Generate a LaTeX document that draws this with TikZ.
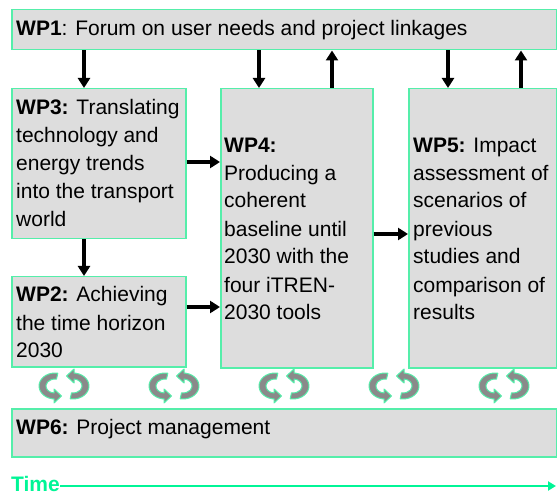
\documentclass[tikz,border=0pt]{standalone}
\usepackage{fontspec}
\setmainfont{Liberation Sans}
\usetikzlibrary{arrows.meta}
\definecolor{boxfill}{RGB}{221,221,221}
\definecolor{boxline}{RGB}{85,238,170}
\definecolor{timegreen}{RGB}{0,245,150}
\definecolor{cycfill}{RGB}{138,138,138}
\tikzset{
  wpbox/.style={draw=boxline,fill=boxfill,line width=1.5pt,inner sep=0pt,anchor=north west},
  wptext/.style={inner sep=0pt,anchor=base west,align=left,font=\fontsize{21}{28}\selectfont},
  flow/.style={line width=3.2pt,-{Triangle[width=12pt,length=10pt]}},
  timeline/.style={draw=timegreen,line width=2.5pt,-{Triangle[width=9pt,length=8pt]}},
  cycpiece/.pic={
    \path[fill=cycfill,draw=boxline,line width=1pt,line join=round]
      (-5.2,-12.8) arc[start angle=280,end angle=100,x radius=16,y radius=13]
      -- (-9,12.8) -- (-9,17) -- (-1.5,10) -- (-9,3) -- (-9,7)
      arc[start angle=96,end angle=280,x radius=9,y radius=7] -- cycle;
  }
}
\begin{document}
\begin{tikzpicture}[x=1pt,y=-1pt]
\useasboundingbox (0,0) rectangle (557,494);
% boxes
\node[wpbox,minimum width=545pt,minimum height=40pt] (wp1) at (11,9) {};
\node[wpbox,minimum width=174pt,minimum height=150pt] (wp3) at (11,88) {};
\node[wpbox,minimum width=174pt,minimum height=90pt] (wp2) at (11,276) {};
\node[wpbox,minimum width=152pt,minimum height=279pt] (wp4) at (220,88) {};
\node[wpbox,minimum width=148pt,minimum height=279pt] (wp5) at (408,88) {};
\node[wpbox,minimum width=545pt,minimum height=48pt] (wp6) at (11,408) {};
% texts (anchor = baseline of the last line)
\node[wptext] (wp1t) at (16,36) {\textbf{WP1}: Forum on user needs and project linkages};
\node[wptext] (wp3t) at (16,227) {\textbf{WP3:} Translating\\technology and\\energy trends\\into the transport\\world};
\node[wptext] (wp2t) at (16,358) {\textbf{WP2:} Achieving\\the time horizon\\2030};
\node[wptext] (wp4t) at (224,320) {\textbf{WP4:}\\Producing a\\coherent\\baseline until\\2030 with the\\four iTREN-\\2030 tools};
\node[wptext] (wp5t) at (413,320) {\textbf{WP5:} Impact\\assessment of\\scenarios of\\previous\\studies and\\comparison of\\results};
\node[wptext] (wp6t) at (16,434) {\textbf{WP6:} Project management};
% connectors
\draw[flow] (84,0 |- wp1.south) -- (84,0 |- wp3.north);
\draw[flow] (259,0 |- wp1.south) -- (259,0 |- wp4.north);
\draw[flow] (332,0 |- wp4.north) -- (332,0 |- wp1.south);
\draw[flow] (448,0 |- wp1.south) -- (448,0 |- wp5.north);
\draw[flow] (521,0 |- wp5.north) -- (521,0 |- wp1.south);
\draw[flow] (84,0 |- wp3.south) -- (84,0 |- wp2.north);
\draw[flow] (wp3.east |- 0,162) -- (wp4.west |- 0,162);
\draw[flow] (wp2.east |- 0,307) -- (wp4.west |- 0,307);
\draw[flow] (wp4.east |- 0,234) -- (wp5.west |- 0,234);
% cycle icons
\foreach \c in {63,173,283,393,503}{
  \pic at (\c,386) {cycpiece};
  \pic[rotate=180] at (\c+2,386) {cycpiece};
}
% time
\node[wptext,font=\bfseries\fontsize{21}{28}\selectfont,text=timegreen] (time) at (11,491) {Time};
\coordinate (tend) at (556,486);
\draw[timeline] (time.east |- tend) -- (tend);
\end{tikzpicture}
\end{document}
